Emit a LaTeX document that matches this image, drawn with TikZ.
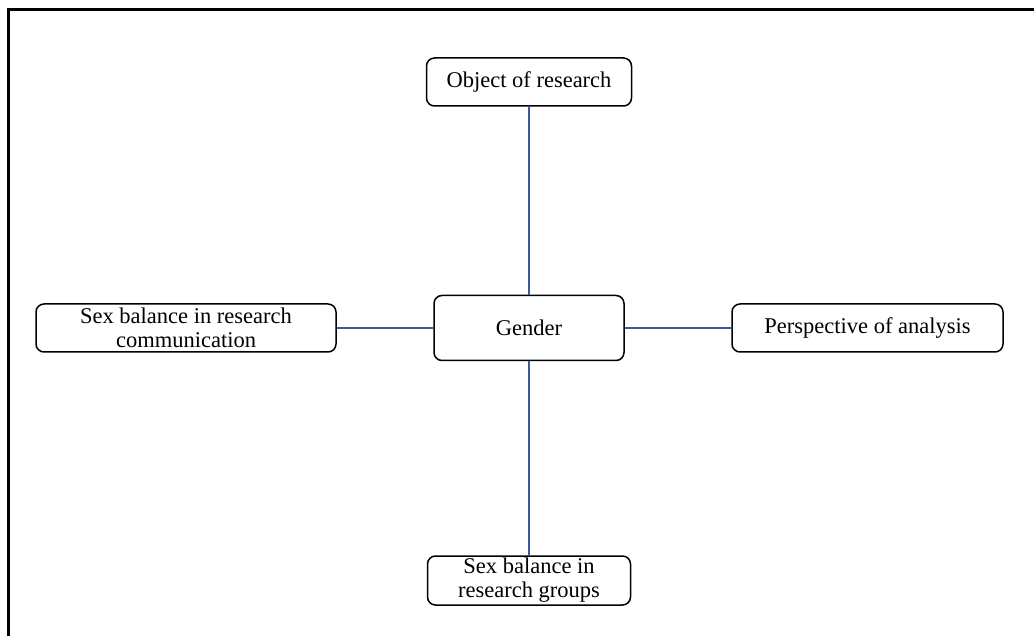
\documentclass[tikz,border=0pt]{standalone}
\usepackage{fontspec}
\setmainfont{Liberation Serif}
\definecolor{linkblue}{RGB}{62,88,158}
\begin{document}
\begin{tikzpicture}[x=0.5pt, y=-0.5pt,
                every node/.style = {draw, rounded corners=4pt, line width=0.75pt,
                    align=center, inner sep=0pt, minimum height=24pt,
                    font=\fontsize{11.25}{12}\selectfont},
                link/.style = {draw=linkblue, line width=0.6pt}
            ]
            \useasboundingbox (0,0) rectangle (1034,636);
            % frame
            \draw[line width=1.5pt] (8,640) -- (8,10) -- (1040,10);
            \node (gender) at (529,328) [minimum width=95pt, minimum height=32.5pt] {Gender};
            \node (object) at (529,82) [minimum width=102.5pt] {Object of research};
            \node (communication) at (186,328) [minimum width=150pt] {Sex balance in research\\communication};
            \node (perspective) at (867.5,328) [minimum width=135.5pt] {Perspective of analysis};
            \node (groups) at (529,580.5) [minimum width=101.5pt, minimum height=24.5pt] {Sex balance in\\research groups};
            \draw[link] (object) -- (gender);
            \draw[link] (communication) -- (gender);
            \draw[link] (gender) -- (perspective);
            \draw[link] (gender) -- (groups);
        \end{tikzpicture}
\end{document}
